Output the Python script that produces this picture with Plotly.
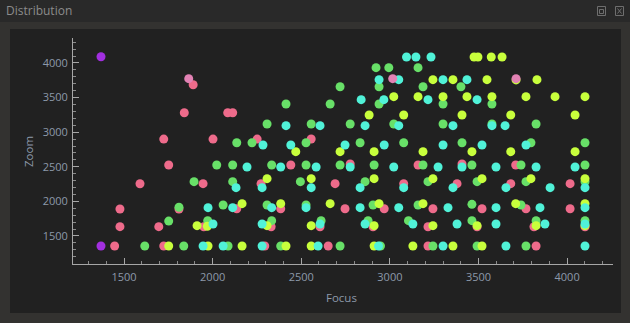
import plotly.graph_objects as go

# Focus / Zoom readings, one group per colour
pink_focus = [1447, 1724, 1477, 1696, 1477, 1810, 1590, 1752, 1724, 1840, 1890,
              2085, 2113, 2002, 2251, 2441, 1946, 2273, 2136, 2384, 1950, 2330, 2294,
              2556, 2776, 2691, 3078, 2747, 2968, 2606, 2905, 2652,
              3159, 3407, 3379, 3682, 3243, 3520, 3215, 3492, 3215, 3710,
              3768, 4017, 4017, 3813, 4101, 3825]
pink_zoom = [1355, 1355, 1635, 1635, 1890, 1890, 2255, 2525, 2900, 3280, 3685,
             3280, 3280, 2900, 2900, 2525, 2256, 2256, 1894, 1894, 1634, 1634, 1355,
             2901, 2540, 2256, 2256, 1894, 1894, 1634, 1634, 1355,
             2525, 2540, 2256, 2256, 1894, 1894, 1634, 1634, 1355, 2525,
             1894, 2256, 1894, 1634, 1634, 1355]

green_focus = [1617, 1837, 1752, 1810,
               2414, 2307, 2136, 2222, 2023, 2113, 2333, 1895, 2113, 2495, 2059, 2307,
               1972, 2333, 2087, 2384,
               2922, 2994, 2719, 2939, 2939, 2663, 2556, 2776, 3022, 2527, 2832, 3078,
               2527, 2719, 2911, 2860, 2527, 2905, 3105, 2612, 2877, 2719, 2947,
               3159, 3187, 3401, 3300, 3576, 3300, 3576, 3407, 3187, 3463, 3215, 3492,
               3159, 3463, 3463, 3243, 3492,
               3825, 3796, 4101, 3740, 4101, 3768, 4101, 3740, 3825, 4101, 3768]
green_zoom = [1355, 1355, 1715, 1915,
              3407, 3118, 2848, 2848, 2525, 2525, 2525, 2285, 2285, 2285, 1947, 1947,
              1721, 1721, 1355, 1355,
              3932, 3932, 3657, 3657, 3407, 3407, 3118, 3118, 3118, 2848, 2848, 2848,
              2525, 2525, 2525, 2285, 1947, 1947, 1721, 1721, 1721, 1355, 1355,
              3932, 3657, 3657, 3407, 3407, 3118, 3118, 2848, 2525, 2525, 2285, 2285,
              1947, 1957, 1721, 1355, 1355,
              3118, 2848, 2848, 2525, 2525, 2285, 2285, 1947, 1721, 1721, 1355]

yellow_focus = [1752,
                2469, 2307, 2166, 2384, 1912, 1970, 2307, 1974, 2166, 2414,
                3022, 2883, 3078, 2719, 2911, 2556, 2911, 2663, 2939, 2556, 2911, 2556, 2911,
                3475, 3497, 3572, 3633, 3243, 3356, 3548, 3712, 3159, 3300, 3435, 3576,
                3407, 3682, 3187, 3463, 3682, 3243, 3520, 3187, 3710, 3243, 3492,
                3130, 3356, 3520,
                3830, 3768, 3932, 4101, 4045, 4045, 3796, 4101, 4101, 3825, 4101]
yellow_zoom = [1355,
               2718, 2328, 1967, 1967, 1649, 1640, 1649, 1355, 1355, 1355,
               3513, 3248, 3248, 2718, 2718, 2328, 2328, 1967, 1967, 1649, 1649, 1355, 1355,
               4087, 4087, 4087, 4087, 3759, 3759, 3759, 3755, 3513, 3513, 3513, 3513,
               3248, 3248, 2718, 2718, 2718, 2328, 2328, 1967, 1967, 1649, 1649,
               1355, 1355, 1355,
               3759, 3513, 3513, 3513, 3248, 2718, 2328, 2328, 1967, 1649, 1649]

cyan_focus = [2414, 2284, 2441, 2194, 2384, 2132, 2279, 1974, 2113, 2333, 2002, 2279,
              1946, 2059, 2279,
              3094, 2939, 3050, 2838, 2966, 2606, 2860, 3050, 2747, 2968, 2584, 2776,
              3022, 2556, 2832, 3078, 2527, 2832, 3050, 2606, 2860, 2595, 2936,
              3147, 3232, 3300, 3435, 3215, 3492, 3356, 3576, 3650, 3300, 3520, 3272,
              3407, 3599, 3356, 3655, 3328, 3599, 3130, 3379, 3599, 3300, 3655,
              3768, 3825, 4045, 3904, 4101, 3847, 4101, 3875, 4101, 4101]
cyan_zoom = [3094, 2814, 2814, 2497, 2497, 2198, 2198, 1909, 1909, 1909, 1673, 1673,
             1355, 1355, 1355,
             4087, 3759, 3759, 3470, 3470, 3094, 3094, 3094, 2814, 2814, 2497, 2497,
             2497, 2198, 2198, 2198, 1909, 1909, 1909, 1673, 1673, 1355, 1355,
             4087, 4087, 3759, 3759, 3470, 3470, 3094, 3094, 3094, 2814, 2814, 2497,
             2497, 2497, 2198, 2198, 1909, 1909, 1673, 1673, 1673, 1355, 1355,
             2814, 2497, 2497, 2198, 2198, 1909, 1909, 1673, 1673, 1355]

lavender_focus = [1865, 3016, 3712]
lavender_zoom = [3773, 3773, 3773]

purple_focus = [1370, 1370]
purple_zoom = [4090, 1355]

x_ticks = [1500, 2000, 2500, 3000, 3500, 4000]
y_ticks = [1500, 2000, 2500, 3000, 3500, 4000]

W, H = 630, 323
ML, MR, MT, MB = 73, 17, 38, 59
PW, PH = W - ML - MR, H - MT - MB

TICK_FONT = dict(family="Open Sans, Noto Sans, sans-serif", size=11, color="#8d99aa")


def px_x(px):
    return (px - ML) / PW


def px_y(py):
    return (H - MB - py) / PH


groups = [
    (pink_focus, pink_zoom, "#ee6b8b"),
    (green_focus, green_zoom, "#68e068"),
    (yellow_focus, yellow_zoom, "#c8ff3c"),
    (cyan_focus, cyan_zoom, "#50f2d8"),
    (lavender_focus, lavender_zoom, "#e282b4"),
    (purple_focus, purple_zoom, "#a22fe0"),
]

fig = go.Figure()
for fx, zy, col in groups:
    fig.add_trace(go.Scatter(
        x=fx, y=zy, mode="markers",
        marker=dict(size=9, color=col, line=dict(width=0)),
        showlegend=False, hoverinfo="x+y",
    ))

axis_common = dict(
    showgrid=False, zeroline=False, showline=True, linecolor="#a6a6a6", linewidth=1,
    ticks="inside", ticklen=6, tickcolor="#a6a6a6", tickwidth=1,
    minor=dict(ticks="inside", ticklen=3, dtick=100, tickcolor="#8a8a8a", showgrid=False),
    tickfont=TICK_FONT,
)

fig.update_xaxes(range=[1212, 4259], tickvals=x_ticks, ticktext=[str(v) for v in x_ticks],
                 ticklabelstandoff=3, **axis_common)
fig.update_yaxes(range=[1095, 4361], tickvals=y_ticks, ticktext=[str(v) for v in y_ticks],
                 ticklabelstandoff=2, **axis_common)

shapes = [
    # title bar
    dict(type="rect", xref="paper", yref="paper", layer="below",
         x0=px_x(0), x1=px_x(W), y0=px_y(22), y1=px_y(0),
         fillcolor="#292929", line=dict(width=0)),
    # inner panel
    dict(type="rect", xref="paper", yref="paper", layer="below",
         x0=px_x(10), x1=px_x(621), y0=px_y(313), y1=px_y(29),
         fillcolor="#212121", line=dict(width=0)),
    # restore icon
    dict(type="rect", xref="paper", yref="paper",
         x0=px_x(597.5), x1=px_x(605.5), y0=px_y(15.5), y1=px_y(6.5),
         fillcolor="rgba(0,0,0,0)", line=dict(color="#6e6e6e", width=1)),
    dict(type="rect", xref="paper", yref="paper",
         x0=px_x(599.5), x1=px_x(603.5), y0=px_y(13.5), y1=px_y(9.5),
         fillcolor="rgba(0,0,0,0)", line=dict(color="#6e6e6e", width=1)),
    # close icon
    dict(type="rect", xref="paper", yref="paper",
         x0=px_x(615.5), x1=px_x(623.5), y0=px_y(15.5), y1=px_y(6.5),
         fillcolor="rgba(0,0,0,0)", line=dict(color="#6e6e6e", width=1)),
    dict(type="line", xref="paper", yref="paper",
         x0=px_x(617.5), x1=px_x(621.5), y0=px_y(13.5), y1=px_y(8.5),
         line=dict(color="#6e6e6e", width=1)),
    dict(type="line", xref="paper", yref="paper",
         x0=px_x(617.5), x1=px_x(621.5), y0=px_y(8.5), y1=px_y(13.5),
         line=dict(color="#6e6e6e", width=1)),
]

annotations = [
    dict(text="Distribution", xref="paper", yref="paper", x=px_x(4), y=px_y(11),
         xanchor="left", yanchor="middle", showarrow=False,
         font=dict(family="Open Sans, Noto Sans, sans-serif", size=12, color="#8c8c8c")),
    dict(text="Focus", xref="paper", yref="paper", x=px_x(341), y=px_y(297),
         xanchor="center", yanchor="middle", showarrow=False,
         font=dict(family="Open Sans, Noto Sans, sans-serif", size=11.5, color="#8d99aa")),
    dict(text="Zoom", xref="paper", yref="paper", x=px_x(28), y=px_y(152),
         xanchor="center", yanchor="middle", showarrow=False, textangle=-90,
         font=dict(family="Open Sans, Noto Sans, sans-serif", size=11.5, color="#8d99aa")),
]

fig.update_layout(
    width=W, height=H,
    margin=dict(l=ML, r=MR, t=MT, b=MB, pad=0),
    paper_bgcolor="#333230", plot_bgcolor="#212121",
    shapes=shapes, annotations=annotations,
    showlegend=False,
)

fig.write_html("out.html")
